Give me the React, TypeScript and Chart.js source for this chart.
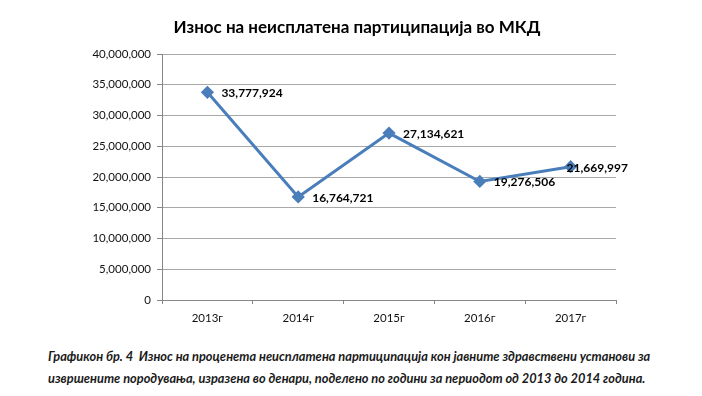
import React, { useEffect, useRef } from "react";
import { Chart, registerables } from "chart.js";

Chart.register(...registerables);

const categories = ["2013г", "2014г", "2015г", "2016г", "2017г"];
const values = [33777924, 16764721, 27134621, 19276506, 21669997];
const yMin = 0;
const yMax = 40000000;
const yStep = 5000000;
const titleText = "Износ на неисплатена партиципација во МКД";
const captionLine1 =
  "Графикон бр. 4  Износ на проценета неисплатена партиципација кон јавните здравствени установи за";
const captionLine2 =
  "извршените породувања, изразена во денари, поделено по години за периодот од 2013 до 2014 година.";

const fmt = (v: number) => v.toLocaleString("en-US");

const dataLabelPlugin = {
  id: "dataLabels",
  afterDatasetsDraw(chart: any) {
    const ctx = chart.ctx;
    const meta = chart.getDatasetMeta(0);
    ctx.save();
    ctx.font = "bold 12px Lato";
    ctx.fillStyle = "#000";
    ctx.textBaseline = "middle";
    ctx.textAlign = "left";
    meta.data.forEach((pt: any, i: number) => {
      const last = i === meta.data.length - 1;
      const x = last ? pt.x - 4 : pt.x + 14;
      ctx.fillText(fmt(values[i]), x, pt.y + 1);
    });
    ctx.restore();
  },
};

export default function App() {
  const ref = useRef<HTMLCanvasElement | null>(null);
  useEffect(() => {
    if (!ref.current) return;
    const chart = new Chart(ref.current, {
      type: "line",
      data: {
        labels: categories,
        datasets: [
          {
            data: values,
            borderColor: "#4a7ebb",
            backgroundColor: "#4a7ebb",
            borderWidth: 3,
            pointStyle: "rectRot",
            pointRadius: 4.5,
            pointBackgroundColor: "#4a7ebb",
            pointBorderColor: "#4a7ebb",
            tension: 0,
          },
        ],
      },
      options: {
        responsive: false,
        animation: false,
        layout: { padding: { left: 92, right: 86, top: 54, bottom: 10 } },
        plugins: {
          legend: { display: false },
          title: { display: false },
          tooltip: { enabled: false },
        },
        scales: {
          x: {
            type: "category",
            offset: true,
            grid: {
              display: true,
              offset: true,
              drawOnChartArea: false,
              tickLength: 4,
              color: "#868686",
            },
            border: { display: true, color: "#868686", width: 1 },
            ticks: {
              font: { family: "Lato", size: 11.5 },
              color: "#111",
              padding: 7,
              maxRotation: 0,
            },
            afterFit: (s: any) => {
              s.height = 30;
            },
          },
          y: {
            min: yMin,
            max: yMax,
            grid: {
              color: "#a8a8a8",
              tickColor: "#868686",
              tickLength: 5,
              lineWidth: 1,
            },
            border: { display: true, color: "#868686", width: 1 },
            ticks: {
              stepSize: yStep,
              font: { family: "Lato", size: 11.5 },
              color: "#111",
              padding: 6,
              callback: (v: any) => fmt(Number(v)),
            },
            afterFit: (s: any) => {
              s.width = 70;
            },
          },
        },
      },
      plugins: [dataLabelPlugin],
    });
    return () => chart.destroy();
  }, []);

  return (
    <div
      style={{
        position: "fixed",
        left: 0,
        top: 0,
        width: 702,
        height: 396,
        background: "#fff",
      }}
    >
      <canvas ref={ref} width={702} height={340} style={{ position: "absolute", left: 0, top: 0 }} />
      <div
        style={{
          position: "absolute",
          left: 0,
          width: 714,
          top: 17,
          textAlign: "center",
          fontFamily: "Lato",
          fontWeight: "bold",
          fontSize: 17,
          lineHeight: "20px",
          color: "#000",
          whiteSpace: "nowrap",
        }}
      >
        {titleText}
      </div>
      <div
        style={{
          position: "absolute",
          left: 48,
          top: 345,
          fontFamily: "Lato",
          fontWeight: "bold",
          fontStyle: "italic",
          fontSize: 12.8,
          lineHeight: "22px",
          color: "#1a1a1a",
          whiteSpace: "pre",
        }}
      >
        <div>{captionLine1}</div>
        <div>{captionLine2}</div>
      </div>
    </div>
  );
}
